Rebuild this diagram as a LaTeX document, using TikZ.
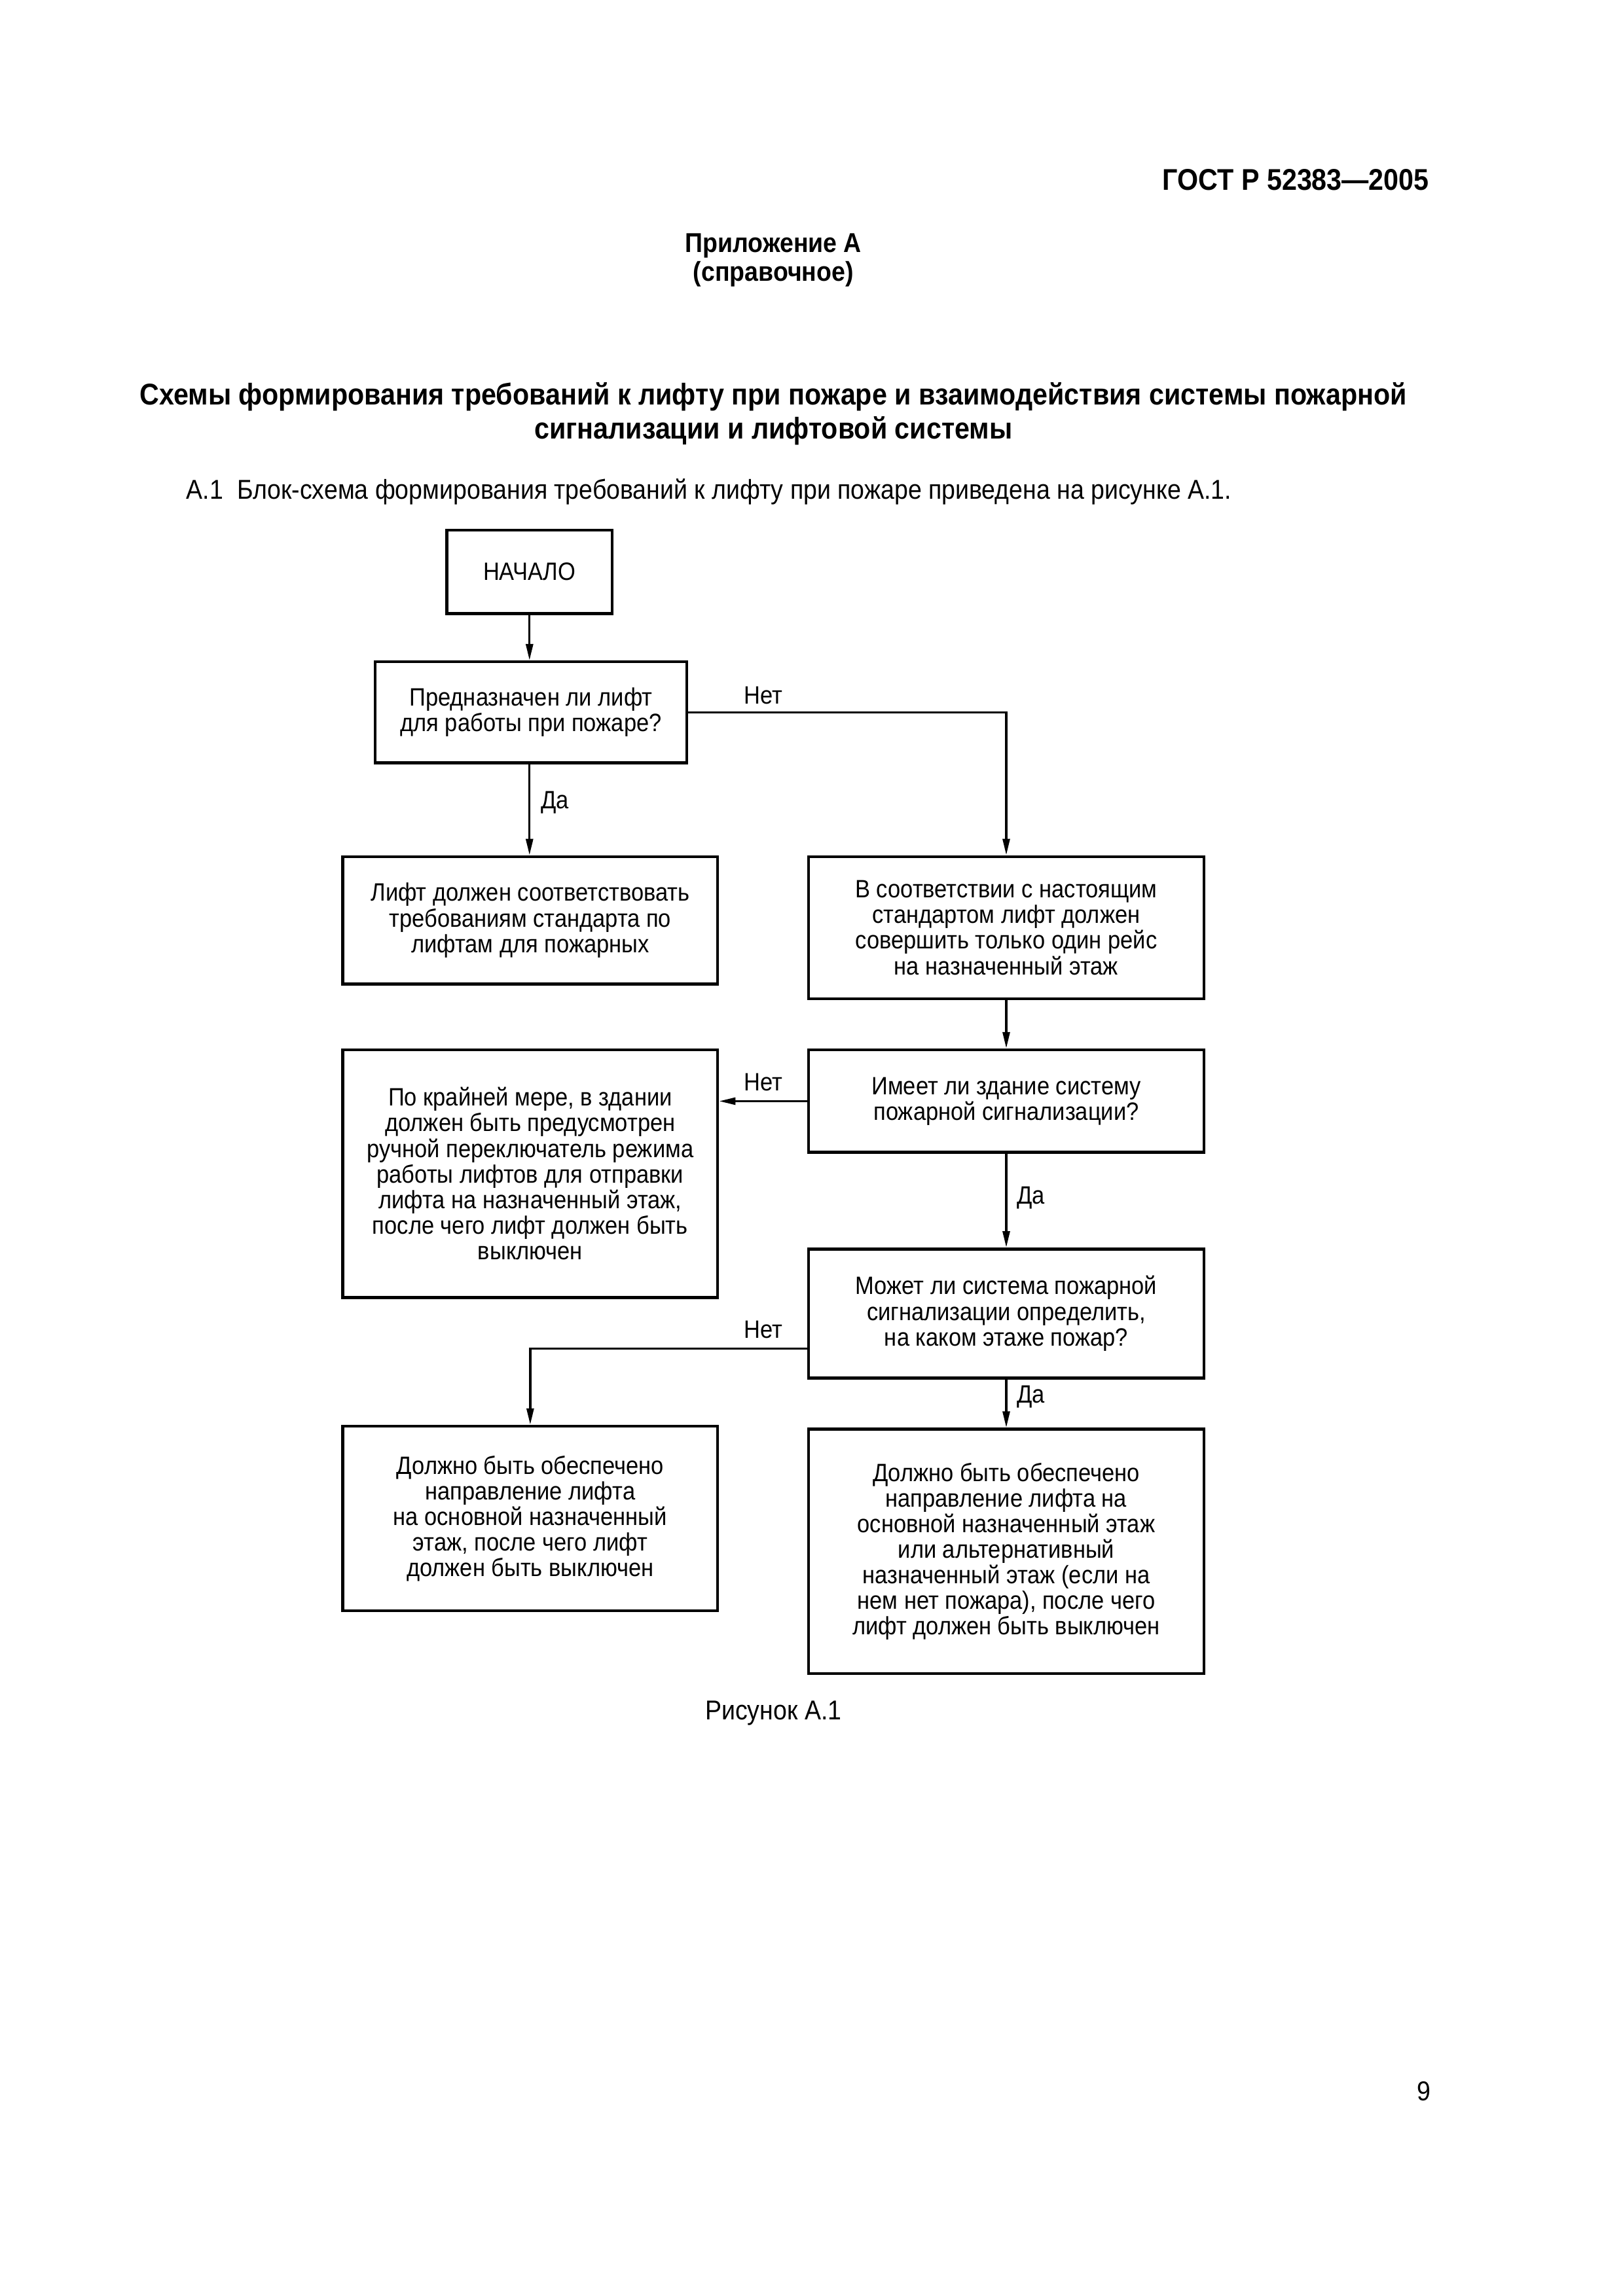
\documentclass[tikz,border=0pt]{standalone}
\usepackage{fontspec}
\setmainfont{Liberation Sans}[FakeStretch=0.9]
\usetikzlibrary{arrows.meta}
\begin{document}
\begin{tikzpicture}[x=0.5373pt,y=-0.5373pt,
  box/.style={draw, line width=1.1pt, align=center, inner sep=2pt, font=\fontsize{9.2}{9.4}\selectfont},
  conn/.style={line width=0.8pt, -{Triangle[length=6pt,width=2.6pt]}},
  lbl/.style={font=\fontsize{9.2}{10}\selectfont, inner sep=0pt},
  pagetext/.style={inner sep=0pt}]
\useasboundingbox[fill=white] (0,0) rectangle (1108,1568);
% page text
\node[pagetext, anchor=east, font=\bfseries\fontsize{11}{13}\selectfont] (hdr) at (976,123) {ГОСТ Р 52383—2005};
\node[pagetext, font=\bfseries\fontsize{10}{11}\selectfont] (app) at (528,168) {Приложение А};
\node[pagetext, font=\bfseries\fontsize{10}{11}\selectfont] (app2) at (528,187) {(справочное)};
\node[pagetext, font=\bfseries\fontsize{11}{12}\selectfont] (t1) at (528,271) {Схемы формирования требований к лифту при пожаре и взаимодействия системы пожарной};
\node[pagetext, font=\bfseries\fontsize{11}{12}\selectfont] (t2) at (528,294) {сигнализации и лифтовой системы};
\node[pagetext, anchor=west, font=\fontsize{10}{12}\selectfont] (par) at (127,336) {А.1\ \ Блок-схема формирования требований к лифту при пожаре приведена на рисунке А.1.};
\node[pagetext, font=\fontsize{10}{12}\selectfont] (cap) at (528,1170) {Рисунок А.1};
\node[pagetext, font=\fontsize{10}{12}\selectfont] (pg) at (972,1428) {9};
% boxes
\node[box, minimum width=60.7pt, minimum height=30.6pt] (start) at (361.5,390.5) {НАЧАЛО};
\node[box, minimum width=114.4pt, minimum height=37.1pt] (q1) at (362.5,486.5) {Предназначен ли лифт\\для работы при пожаре?};
\node[box, minimum width=137.5pt, minimum height=46.7pt] (a) at (362,628.5) {Лифт должен соответствовать\\требованиям стандарта по\\лифтам для пожарных};
\node[box, minimum width=145.1pt, minimum height=52.1pt] (b) at (687,633.5) {В соответствии с настоящим\\стандартом лифт должен\\совершить только один рейс\\на назначенный этаж};
\node[box, minimum width=145.1pt, minimum height=37.6pt] (q2) at (687,752) {Имеет ли здание систему\\пожарной сигнализации?};
\node[box, minimum width=137.5pt, minimum height=90.8pt] (c) at (362,801.5) {По крайней мере, в здании\\должен быть предусмотрен\\ручной переключатель режима\\работы лифтов для отправки\\лифта на назначенный этаж,\\после чего лифт должен быть\\выключен};
\node[box, minimum width=145.1pt, minimum height=47.3pt] (q3) at (687,897) {Может ли система пожарной\\сигнализации определить,\\на каком этаже пожар?};
\node[box, minimum width=137.5pt, minimum height=67.7pt] (d) at (362,1037) {Должно быть обеспечено\\направление лифта\\на основной назначенный\\этаж, после чего лифт\\должен быть выключен};
\node[box, minimum width=145.1pt, minimum height=89.7pt] (e) at (687,1059.5) {Должно быть обеспечено\\направление лифта на\\основной назначенный этаж\\или альтернативный\\назначенный этаж (если на\\нем нет пожара), после чего\\лифт должен быть выключен};
% connectors
\draw[conn] (start) -- (start |- q1.north);
\draw[conn] (q1.south -| start) -- (start |- a.north);
\draw[conn] (q1.east) -| (b.north);
\draw[conn] (b) -- (q2);
\draw[conn] (q2.west) -- (q2.west -| c.east);
\draw[conn] (q2) -- (q3);
\draw[conn] ([yshift=-12.9pt]q3.west) -| (d.north);
\draw[conn] (q3) -- (e);
% labels
\node[lbl] (l1) at (521,475) {Нет};
\node[lbl, anchor=west] (l2) at (369,548) {Да};
\node[lbl] (l3) at (521,739) {Нет};
\node[lbl, anchor=west] (l4) at (694,818) {Да};
\node[lbl] (l5) at (521,908) {Нет};
\node[lbl, anchor=west] (l6) at (694,954) {Да};
\end{tikzpicture}
\end{document}
